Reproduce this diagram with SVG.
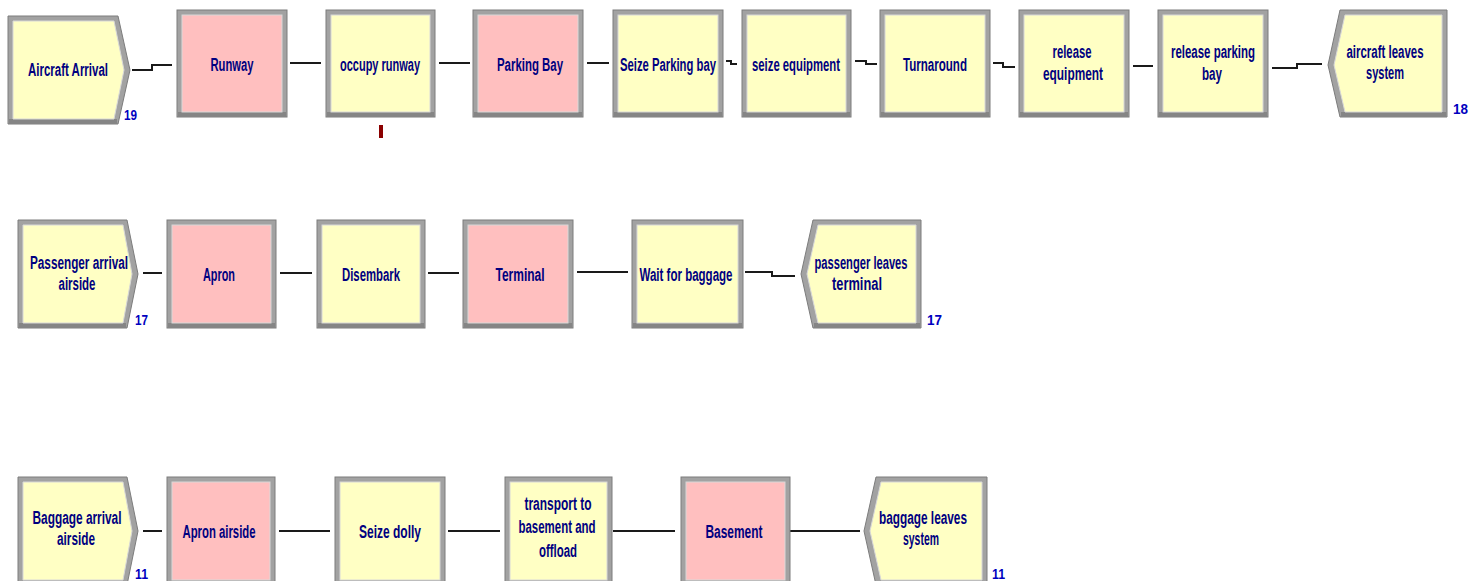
<svg xmlns="http://www.w3.org/2000/svg" width="1482" height="581" viewBox="0 0 1482 581">
<style>
.ob{fill:#a2a2a2;stroke:#7c7c7c;stroke-width:1}
.y{fill:#ffffc4;stroke:#d8d8d8;stroke-width:1}
.p{fill:#ffbfbf;stroke:#d8d8d8;stroke-width:1}
.sh{fill:#858585}
.t{font-family:"Liberation Sans",Arial,sans-serif;font-size:18px;font-weight:bold;fill:#000080;text-anchor:middle}
.n{font-family:"Liberation Sans",Arial,sans-serif;font-size:15px;font-weight:bold;fill:#0000c0}
.c{fill:none;stroke:#1a1a1a;stroke-width:2}
</style>
<rect width="1482" height="581" fill="#ffffff"/>

<g id="connectors">
<path class="c" d="M132,70 H152 V65 H172"/>
<path class="c" d="M290,63 H321"/>
<path class="c" d="M439,63 H470"/>
<path class="c" d="M587,63 H609"/>
<path class="c" d="M726,61 H731 V64 H737"/>
<path class="c" d="M855,61 H866 V64 H877"/>
<path class="c" d="M993,63 H1003 V67 H1015"/>
<path class="c" d="M1133,66 H1153"/>
<path class="c" d="M1272,68 H1297 V64 H1322"/>
<path class="c" d="M143,273 H162"/>
<path class="c" d="M280,273 H312"/>
<path class="c" d="M428,273 H459"/>
<path class="c" d="M577,272 H628"/>
<path class="c" d="M745,272 H772 V276 H795"/>
<path class="c" d="M143,531 H162"/>
<path class="c" d="M279,531 H330"/>
<path class="c" d="M448,531 H500"/>
<path class="c" d="M613,531 H675"/>
<path class="c" d="M790,531 H860"/>
</g>

<g id="aircraft-arrival">
<polygon class="ob" points="8,16 118,16 130,70 118,124 8,124"/>
<rect class="sh" x="9" y="119" width="108" height="5"/>
<polygon class="y" points="13,21 114,21 124,70 114,119 13,119"/>
<text class="t" x="68" y="76" textLength="80" lengthAdjust="spacingAndGlyphs">Aircraft Arrival</text>
<text class="n" x="124" y="120" textLength="13" lengthAdjust="spacingAndGlyphs">19</text>
</g>
<g id="runway">
<rect class="ob" x="177" y="10" width="110" height="107"/>
<rect class="sh" x="178" y="112" width="108" height="5"/>
<rect class="p" x="182" y="15" width="100" height="97"/>
<text class="t" x="232" y="71" textLength="43" lengthAdjust="spacingAndGlyphs">Runway</text>
</g>
<g id="occupy-runway">
<rect class="ob" x="326" y="10" width="109" height="107"/>
<rect class="sh" x="327" y="112" width="107" height="5"/>
<rect class="y" x="331" y="15" width="99" height="97"/>
<text class="t" x="380" y="71" textLength="80" lengthAdjust="spacingAndGlyphs">occupy runway</text>
<rect x="379" y="125" width="4" height="13" fill="#8b0000"/>
</g>
<g id="parking-bay">
<rect class="ob" x="473" y="10" width="110" height="107"/>
<rect class="sh" x="474" y="112" width="108" height="5"/>
<rect class="p" x="478" y="15" width="100" height="97"/>
<text class="t" x="530" y="71" textLength="66" lengthAdjust="spacingAndGlyphs">Parking Bay</text>
</g>
<g id="seize-parking-bay">
<rect class="ob" x="613" y="10" width="110" height="107"/>
<rect class="sh" x="614" y="112" width="108" height="5"/>
<rect class="y" x="618" y="15" width="100" height="97"/>
<text class="t" x="668" y="71" textLength="96" lengthAdjust="spacingAndGlyphs">Seize Parking bay</text>
</g>
<g id="seize-equipment">
<rect class="ob" x="742" y="10" width="109" height="107"/>
<rect class="sh" x="743" y="112" width="107" height="5"/>
<rect class="y" x="747" y="15" width="99" height="97"/>
<text class="t" x="796" y="71" textLength="88" lengthAdjust="spacingAndGlyphs">seize equipment</text>
</g>
<g id="turnaround">
<rect class="ob" x="880" y="10" width="110" height="107"/>
<rect class="sh" x="881" y="112" width="108" height="5"/>
<rect class="y" x="885" y="15" width="100" height="97"/>
<text class="t" x="935" y="71" textLength="64" lengthAdjust="spacingAndGlyphs">Turnaround</text>
</g>
<g id="release-equipment">
<rect class="ob" x="1019" y="10" width="110" height="107"/>
<rect class="sh" x="1020" y="112" width="108" height="5"/>
<rect class="y" x="1024" y="15" width="100" height="97"/>
<text class="t" x="1072" y="58" textLength="39" lengthAdjust="spacingAndGlyphs">release</text>
<text class="t" x="1073" y="80" textLength="60" lengthAdjust="spacingAndGlyphs">equipment</text>
</g>
<g id="release-parking-bay">
<rect class="ob" x="1158" y="10" width="110" height="107"/>
<rect class="sh" x="1159" y="112" width="108" height="5"/>
<rect class="y" x="1163" y="15" width="100" height="97"/>
<text class="t" x="1213" y="58" textLength="84" lengthAdjust="spacingAndGlyphs">release parking</text>
<text class="t" x="1212" y="80" textLength="20" lengthAdjust="spacingAndGlyphs">bay</text>
</g>
<g id="aircraft-leaves-system">
<polygon class="ob" points="1328,65 1340,10 1447,10 1447,117 1340,117"/>
<rect class="sh" x="1341" y="112" width="105" height="5"/>
<polygon class="y" points="1334,65 1345,15 1442,15 1442,112 1345,112"/>
<text class="t" x="1385" y="58" textLength="77" lengthAdjust="spacingAndGlyphs">aircraft leaves</text>
<text class="t" x="1385" y="79" textLength="38" lengthAdjust="spacingAndGlyphs">system</text>
<text class="n" x="1453" y="114" textLength="15" lengthAdjust="spacingAndGlyphs">18</text>
</g>

<g id="passenger-arrival-airside">
<polygon class="ob" points="18,220 127,220 138,274 127,328 18,328"/>
<rect class="sh" x="19" y="323" width="107" height="5"/>
<polygon class="y" points="23,225 123,225 132,274 123,323 23,323"/>
<text class="t" x="79" y="269" textLength="98" lengthAdjust="spacingAndGlyphs">Passenger arrival</text>
<text class="t" x="77" y="290" textLength="37" lengthAdjust="spacingAndGlyphs">airside</text>
<text class="n" x="135" y="325" textLength="13" lengthAdjust="spacingAndGlyphs">17</text>
</g>
<g id="apron">
<rect class="ob" x="167" y="220" width="109" height="108"/>
<rect class="sh" x="168" y="323" width="107" height="5"/>
<rect class="p" x="172" y="225" width="99" height="98"/>
<text class="t" x="219" y="281" textLength="32" lengthAdjust="spacingAndGlyphs">Apron</text>
</g>
<g id="disembark">
<rect class="ob" x="317" y="220" width="108" height="108"/>
<rect class="sh" x="318" y="323" width="106" height="5"/>
<rect class="y" x="322" y="225" width="98" height="98"/>
<text class="t" x="371" y="281" textLength="58" lengthAdjust="spacingAndGlyphs">Disembark</text>
</g>
<g id="terminal">
<rect class="ob" x="463" y="220" width="110" height="108"/>
<rect class="sh" x="464" y="323" width="108" height="5"/>
<rect class="p" x="468" y="225" width="100" height="98"/>
<text class="t" x="520" y="281" textLength="49" lengthAdjust="spacingAndGlyphs">Terminal</text>
</g>
<g id="wait-for-baggage">
<rect class="ob" x="632" y="220" width="111" height="108"/>
<rect class="sh" x="633" y="323" width="109" height="5"/>
<rect class="y" x="637" y="225" width="101" height="98"/>
<text class="t" x="686" y="281" textLength="93" lengthAdjust="spacingAndGlyphs">Wait for baggage</text>
</g>
<g id="passenger-leaves-terminal">
<polygon class="ob" points="801,274 813,220 921,220 921,328 813,328"/>
<rect class="sh" x="814" y="323" width="106" height="5"/>
<polygon class="y" points="807,274 818,225 916,225 916,323 818,323"/>
<text class="t" x="861" y="269" textLength="93" lengthAdjust="spacingAndGlyphs">passenger leaves</text>
<text class="t" x="857" y="290" textLength="50" lengthAdjust="spacingAndGlyphs">terminal</text>
<text class="n" x="927" y="325" textLength="15" lengthAdjust="spacingAndGlyphs">17</text>
</g>

<g id="baggage-arrival-airside">
<polygon class="ob" points="18,477 127,477 138,531 127,585 18,585"/>
<polygon class="y" points="23,482 123,482 132,531 123,580 23,580"/>
<text class="t" x="77" y="524" textLength="89" lengthAdjust="spacingAndGlyphs">Baggage arrival</text>
<text class="t" x="76" y="545" textLength="38" lengthAdjust="spacingAndGlyphs">airside</text>
<text class="n" x="135" y="579" textLength="13" lengthAdjust="spacingAndGlyphs">11</text>
</g>
<g id="apron-airside">
<rect class="ob" x="167" y="477" width="108" height="108"/>
<rect class="p" x="172" y="482" width="98" height="98"/>
<text class="t" x="219" y="538" textLength="73" lengthAdjust="spacingAndGlyphs">Apron airside</text>
</g>
<g id="seize-dolly">
<rect class="ob" x="335" y="477" width="110" height="108"/>
<rect class="y" x="340" y="482" width="100" height="98"/>
<text class="t" x="390" y="538" textLength="62" lengthAdjust="spacingAndGlyphs">Seize dolly</text>
</g>
<g id="transport-to-basement">
<rect class="ob" x="505" y="477" width="107" height="108"/>
<rect class="y" x="510" y="482" width="97" height="98"/>
<text class="t" x="558" y="510" textLength="67" lengthAdjust="spacingAndGlyphs">transport to</text>
<text class="t" x="557" y="533" textLength="77" lengthAdjust="spacingAndGlyphs">basement and</text>
<text class="t" x="558" y="557" textLength="38" lengthAdjust="spacingAndGlyphs">offload</text>
</g>
<g id="basement">
<rect class="ob" x="681" y="477" width="109" height="108"/>
<rect class="p" x="686" y="482" width="99" height="98"/>
<text class="t" x="734" y="538" textLength="57" lengthAdjust="spacingAndGlyphs">Basement</text>
</g>
<g id="baggage-leaves-system">
<polygon class="ob" points="864,531 876,477 987,477 987,585 876,585"/>
<polygon class="y" points="870,531 881,482 982,482 982,580 881,580"/>
<text class="t" x="923" y="524" textLength="88" lengthAdjust="spacingAndGlyphs">baggage leaves</text>
<text class="t" x="921" y="545" textLength="36" lengthAdjust="spacingAndGlyphs">system</text>
<text class="n" x="992" y="579" textLength="13" lengthAdjust="spacingAndGlyphs">11</text>
</g>
</svg>
